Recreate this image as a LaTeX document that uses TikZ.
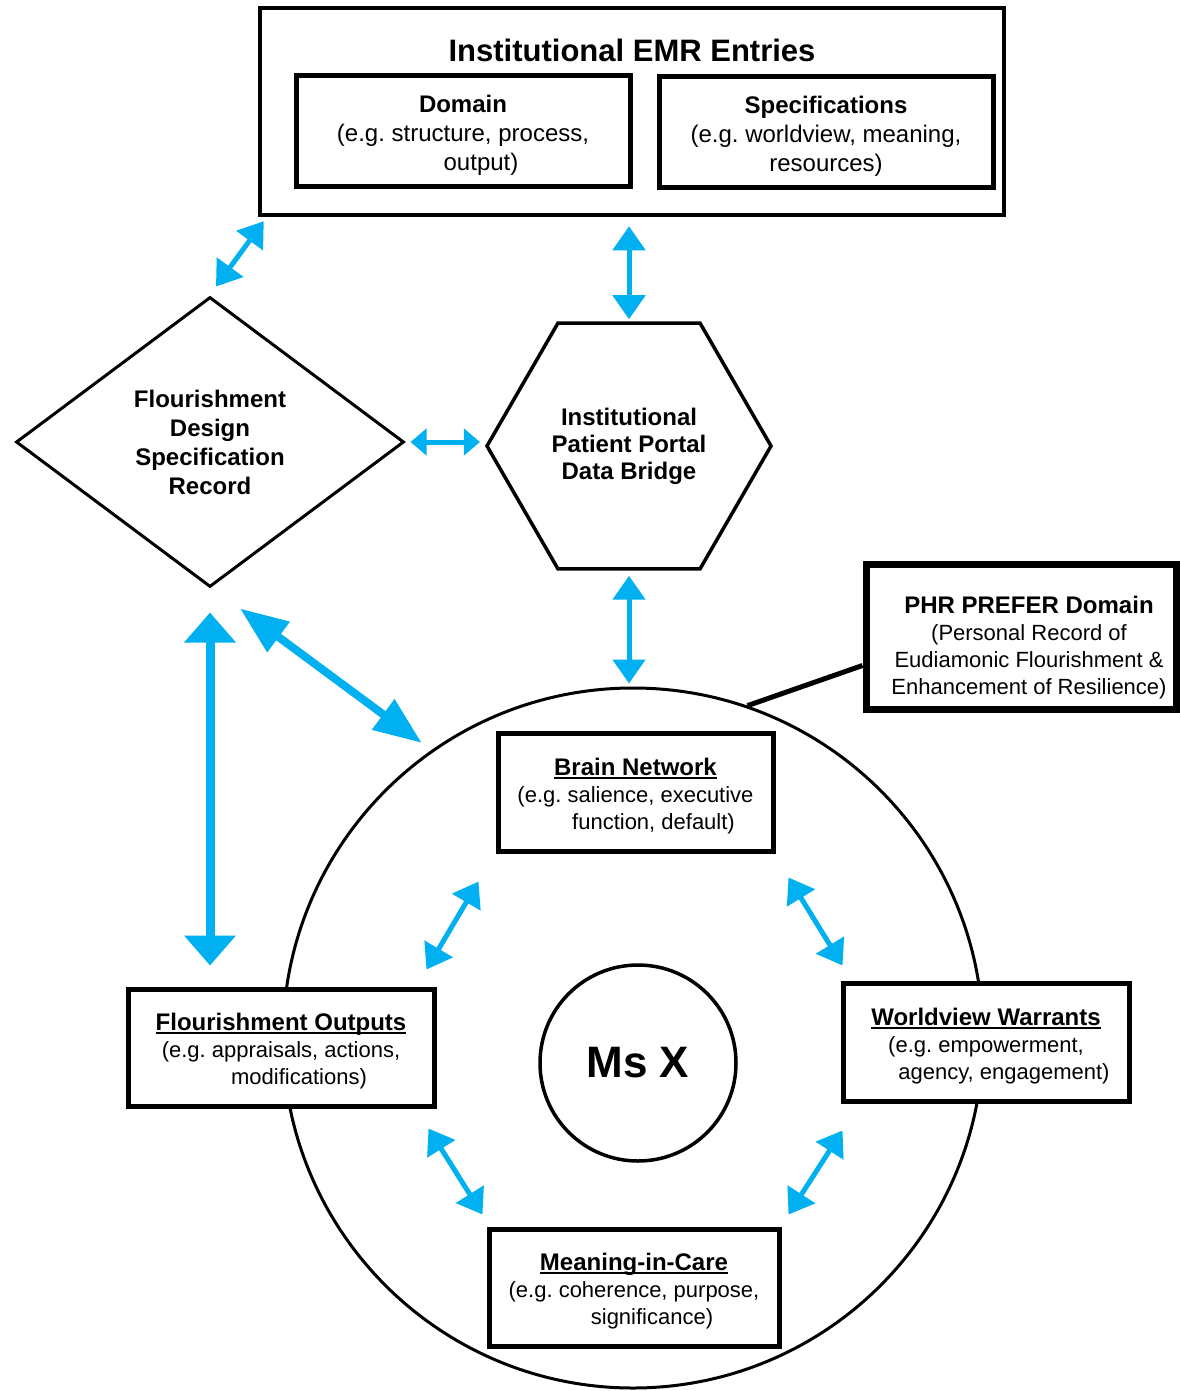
\documentclass[tikz,border=0pt]{standalone}
\usepackage{fontspec}
\setmainfont{Liberation Sans}
\usepackage{xcolor}
\usepackage{tikz}
\usetikzlibrary{shapes.geometric,arrows.meta}

\definecolor{linkblue}{RGB}{0,176,240}
\newcommand\ringtitle[1]{{\fontsize{24}{27}\selectfont\bfseries\setbox0=\hbox{#1}\rlap{\rule[-3.5pt]{\wd0}{2pt}}\box0}}
\newcommand\toplift{\rule{0pt}{25pt}}
\frenchspacing

\begin{document}
\begin{tikzpicture}[x=1pt, y=-1pt,
      box/.style={rectangle, draw, line width=5pt, fill=white, inner sep=0pt, align=center},
      emrtext/.style={font=\fontsize{24}{29}\selectfont},
      ringbox/.style={box, font=\fontsize{22}{27}\selectfont},
      arr/.style={draw=linkblue, line width=5pt,
        {Triangle[length=24pt, width=32pt]}-{Triangle[length=24pt, width=32pt]}},
      smallarr/.style={arr, {Triangle[length=16pt, width=26pt]}-{Triangle[length=16pt, width=26pt]}},
      bigarr/.style={draw=linkblue, line width=9pt,
        {Triangle[length=30pt, width=50pt]}-{Triangle[length=30pt, width=50pt]}},
      longarr/.style={draw=linkblue, line width=8pt,
        {Triangle[length=48pt, width=36pt]}-{Triangle[length=48pt, width=36pt]}}
      ]
      \useasboundingbox (0,0) rectangle (1179,1391);

      \node[rectangle, draw, line width=4.5pt, minimum width=744pt, minimum height=207pt] (emr) at (632,111.5) {};
      \node[font=\fontsize{31}{37}\selectfont\bfseries] (emrtitle) at (632,50) {Institutional EMR Entries};
      \node[box, emrtext, minimum width=334pt, minimum height=111pt] (domain) at (463,131.5)
        {\toplift\textbf{Domain}\\(e.g. structure, process,\\\hspace*{36pt}output)};
      \node[box, emrtext, minimum width=334pt, minimum height=111pt] (specs) at (826,132.5)
        {\toplift\textbf{Specifications}\\(e.g. worldview, meaning,\\resources)};

      \node[diamond, draw, line width=3pt, minimum width=388pt, minimum height=290pt, inner sep=0pt,
        align=center, font=\fontsize{24}{29}\selectfont\bfseries] (dfsr) at (210,442)
        {Flourishment\\Design\\Specification\\Record};
      \node[regular polygon, regular polygon sides=6, draw, line width=3.5pt, minimum size=284pt,
        inner sep=0pt, align=center, font=\fontsize{24}{27}\selectfont\bfseries] (bridge) at (629,446)
        {Institutional\\Patient Portal\\Data Bridge};

      \node[circle, draw, line width=3pt, minimum size=700pt, inner sep=0pt] (prefer) at (633,1038) {};
      \node[circle, draw, line width=3.5pt, minimum size=196pt, inner sep=0pt,
        font=\fontsize{44}{50}\selectfont\bfseries] (msx) at (638,1063) {Ms X};

      \node[ringbox, minimum width=275pt, minimum height=118pt] (brain) at (635.5,792)
        {\toplift\ringtitle{Brain Network}\\(e.g. salience, executive\\\hspace*{36pt}function, default)};
      \node[ringbox, minimum width=306pt, minimum height=117pt] (outputs) at (281,1047.5)
        {\toplift\ringtitle{Flourishment Outputs}\\(e.g. appraisals, actions,\\\hspace*{36pt}modifications)};
      \node[ringbox, minimum width=286pt, minimum height=118pt] (warrants) at (986,1042)
        {\toplift\ringtitle{Worldview Warrants}\\(e.g. empowerment,\\\hspace*{36pt}agency, engagement)};
      \node[ringbox, minimum width=290pt, minimum height=117pt] (meaning) at (634,1287.5)
        {\toplift\ringtitle{Meaning-in-Care}\\(e.g. coherence, purpose,\\\hspace*{36pt}significance)};

      \node[rectangle, draw, fill=white, line width=7pt, minimum width=310pt, minimum height=145pt,
        label={[align=center, font=\fontsize{22}{27}\selectfont, xshift=8pt, yshift=-11pt]center:{\textbf{\fontsize{24}{27}\selectfont PHR PREFER Domain}\\(Personal Record of\\Eudiamonic Flourishment \&\\Enhancement of Resilience)}}]
        (phr) at (1021,636.5) {};
      \draw[line width=5pt] ([yshift=-29pt]phr.west) -- (prefer.71);

      \draw[arr] ([xshift=6pt, yshift=9pt]dfsr.north) -- ([xshift=6pt, yshift=-4pt]emr.south west);
      \draw[arr, shorten <=9pt, shorten >=2pt] (bridge.north |- emr.south) -- (bridge.north);
      \draw[smallarr, shorten <=5pt, shorten >=5pt] (dfsr.east) -- (dfsr.east -| bridge.west);
      \draw[arr, shorten <=5pt, shorten >=3pt] (bridge.south) -- (bridge.south |- prefer.north);
      \draw[bigarr, shorten <=24pt, shorten >=21pt] (dfsr.south) -- (dfsr.south |- outputs.north);
      \draw[longarr, shorten >=12pt] ([xshift=30pt, yshift=-20pt]dfsr.south) -- (prefer.125);

      \draw[arr] ([xshift=-10pt, yshift=17pt]outputs.north east) -- ([xshift=-17pt, yshift=-28pt]brain.south west);
      \draw[arr] ([xshift=13pt, yshift=-24pt]brain.south east) -- ([xshift=2pt, yshift=15pt]warrants.north west);
      \draw[arr] ([xshift=-8pt, yshift=-20pt]outputs.south east) -- ([xshift=-4pt, yshift=12pt]meaning.north west);
      \draw[arr] ([xshift=2pt, yshift=-27pt]warrants.south west) -- ([xshift=7pt, yshift=12pt]meaning.north east);
    \end{tikzpicture}
\end{document}
